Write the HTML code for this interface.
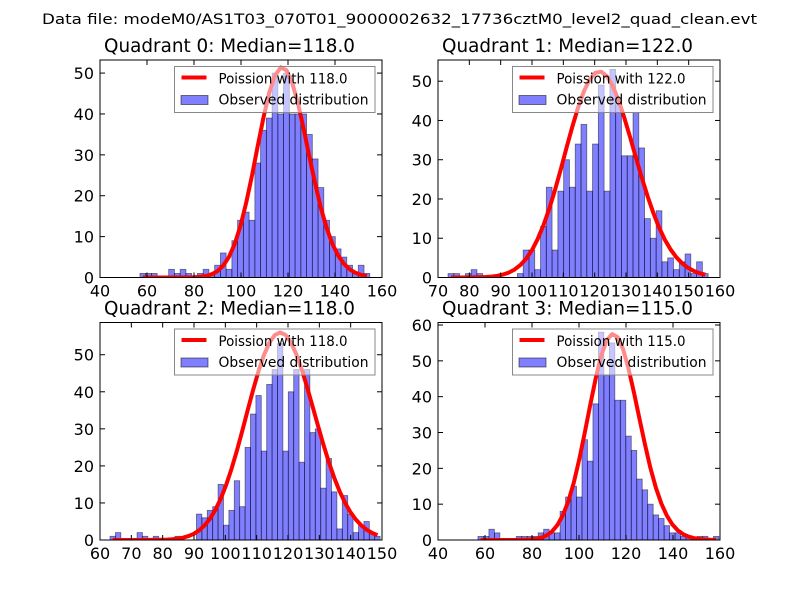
<!DOCTYPE html>
<html><head><meta charset="utf-8"><style>
html,body{margin:0;padding:0;background:#fff;}
svg{display:block;font-family:"DejaVu Sans","Liberation Sans",sans-serif;}
</style></head><body>
<svg id="fig" width="800" height="600" viewBox="0 0 800 600" xmlns="http://www.w3.org/2000/svg">
<rect width="800" height="600" fill="#fff"/>
<text x="42" y="24" font-size="14.5" textLength="715" lengthAdjust="spacingAndGlyphs">Data file: modeM0/AS1T03_070T01_9000002632_17736cztM0_level2_quad_clean.evt</text>
</svg>
<script>
// Quadrant 0
const q0Counts=[1,1,1,0,0,2,1,2,1,0,1,2,1,3,6,2,9,14,16,14,28,36,39,50,40,50,40,40,40,35,29,22,14,10,7,5,3,1,3,1];
const q0Bins=[57,2.445];
const q0Median=118, q0Scale=1400;
const q0XTicks=[40,60,80,100,120,140,160];
const q0YTicks=[0,10,20,30,40,50];
// Quadrant 1
const q1Counts=[1,1,0,1,2,1,0,0,0,0,0,0,1,7,7,2,13,23,7,22,30,23,34,39,22,34,49,22,53,44,31,31,42,33,15,10,17,4,5,2,4,6,1,4,1];
const q1Bins=[73.2,1.845];
const q1Median=122, q1Scale=1453;
const q1XTicks=[70,80,90,100,110,120,130,140,150,160];
const q1YTicks=[0,10,20,30,40,50];
// Quadrant 2
const q2Counts=[1,2,0,0,0,2,1,0,1,0,0,0,1,0,0,0,7,6,8,9,15,4,8,16,9,25,34,39,24,42,46,53,24,40,46,21,46,29,30,14,22,13,3,12,7,2,4,5,2,1];
const q2Bins=[63.2,1.724];
const q2Median=118, q2Scale=1525;
const q2XTicks=[60,70,80,90,100,110,120,130,140,150];
const q2YTicks=[0,10,20,30,40,50];
// Quadrant 3
const q3Counts=[1,1,3,2,0,0,0,1,1,1,1,2,3,2,2,8,12,15,12,28,22,38,58,46,55,39,39,29,25,17,14,10,7,6,4,2,2,1,1,0,1,1,0,1];
const q3Bins=[57,2.33];
const q3Median=115, q3Scale=1546;
const q3XTicks=[40,60,80,100,120,140,160];
const q3YTicks=[0,10,20,30,40,50,60];

const NS="http://www.w3.org/2000/svg";
const fig=document.getElementById('fig');
function mk(tag,attrs,parent){const e=document.createElementNS(NS,tag);for(const k in attrs)e.setAttribute(k,attrs[k]);(parent||fig).appendChild(e);return e;}
function lgamma(x){const c=[76.18009172947146,-86.50532032941677,24.01409824083091,-1.231739572450155,0.1208650973866179e-2,-0.5395239384953e-5];let y=x,t=x+5.5;t-=(x+0.5)*Math.log(t);let s=1.000000000190015;for(let j=0;j<6;j++)s+=c[j]/++y;return -t+Math.log(2.5066282746310005*s/x);}
function pmf(k,mu){return Math.exp(k*Math.log(mu)-mu-lgamma(k+1));}

function panel(id,box,xmin,xmax,ymax,counts,bins,median,scale,xt,yt){
  const [L,T,R,B]=box;
  const g=mk('g',{});
  
  
  const sx=v=>L+(v-xmin)/(xmax-xmin)*(R-L);
  const sy=v=>B-v/ymax*(B-T);
  const t=mk('text',{x:(L+R)/2-137,y:T-8,'font-size':19,textLength:251,lengthAdjust:'spacingAndGlyphs'},g);
  t.textContent='Quadrant '+id+': Median='+median.toFixed(1);
  
  
  const [x0,w]=bins;
  counts.forEach((c,i)=>{
    if(c<=0)return;
    const r=mk('rect',{x:sx(x0+i*w),y:sy(c),width:sx(x0+(i+1)*w)-sx(x0+i*w),height:sy(0)-sy(c),fill:'#0000ff','fill-opacity':0.5,stroke:'#000','stroke-opacity':0.5,'stroke-width':0.8},g);
    
    
  });
  let d='';
  counts.forEach((c,i)=>{const xc=x0+(i+0.5)*w;d+=(i?'L':'M')+sx(xc).toFixed(1)+' '+sy(scale*pmf(xc,median)).toFixed(1);});
  const cl=mk('clipPath',{id:'clip'+id},g);mk('rect',{x:L,y:T,width:R-L,height:B-T},cl);
  const p=mk('path',{d:d,fill:'none',stroke:'#ff0000','stroke-width':4,'stroke-linejoin':'round','clip-path':'url(#clip'+id+')'},g);
  
  
  xt.forEach(v=>{const x=sx(v);
    mk('line',{x1:x,y1:B,x2:x,y2:B-5,stroke:'#000'},g);mk('line',{x1:x,y1:T,x2:x,y2:T+5,stroke:'#000'},g);
    const tx=mk('text',{x:x,y:B+19,'font-size':16,'text-anchor':'middle'},g);tx.textContent=v;
    
    });
  yt.forEach(v=>{const y=sy(v);
    mk('line',{x1:L,y1:y,x2:L+5,y2:y,stroke:'#000'},g);mk('line',{x1:R,y1:y,x2:R-5,y2:y,stroke:'#000'},g);
    const ty=mk('text',{x:L-6,y:y+6,'font-size':16,'text-anchor':'end'},g);ty.textContent=v;
    
    });
  mk('rect',{x:L,y:T,width:R-L,height:B-T,fill:'none',stroke:'#000','stroke-width':1},g);
  const lg=mk('g',{},g);
  
  
  const lx=L+74.5, ly=T+6.5;
  mk('rect',{x:lx,y:ly,width:200.5,height:46,fill:'#fff','fill-opacity':0.55,stroke:'#888','stroke-width':1},lg);
  mk('line',{x1:lx+7,y1:ly+11,x2:lx+32,y2:ly+11,stroke:'#ff0000','stroke-width':4},lg);
  mk('rect',{x:lx+6.5,y:ly+29,width:27,height:9,fill:'#0000ff','fill-opacity':0.5,stroke:'#000','stroke-opacity':0.5},lg);
  const a=mk('text',{x:lx+44,y:ly+17,'font-size':14,textLength:129,lengthAdjust:'spacingAndGlyphs'},lg);a.textContent='Poission with '+median.toFixed(1);
  
  
  const b=mk('text',{x:lx+44,y:ly+38,'font-size':14,textLength:150,lengthAdjust:'spacingAndGlyphs'},lg);b.textContent='Observed distribution';
  
  
}
panel(0,[100,60,382,277.5],40,160,53.2,q0Counts,q0Bins,q0Median,q0Scale,q0XTicks,q0YTicks);
panel(1,[438,60,720,277.5],70,160,55.4,q1Counts,q1Bins,q1Median,q1Scale,q1XTicks,q1YTicks);
panel(2,[100,322.5,382,540],60,150,58.7,q2Counts,q2Bins,q2Median,q2Scale,q2XTicks,q2YTicks);
panel(3,[438,322.5,720,540],40,160,60.7,q3Counts,q3Bins,q3Median,q3Scale,q3XTicks,q3YTicks);
</script>
</body></html>
